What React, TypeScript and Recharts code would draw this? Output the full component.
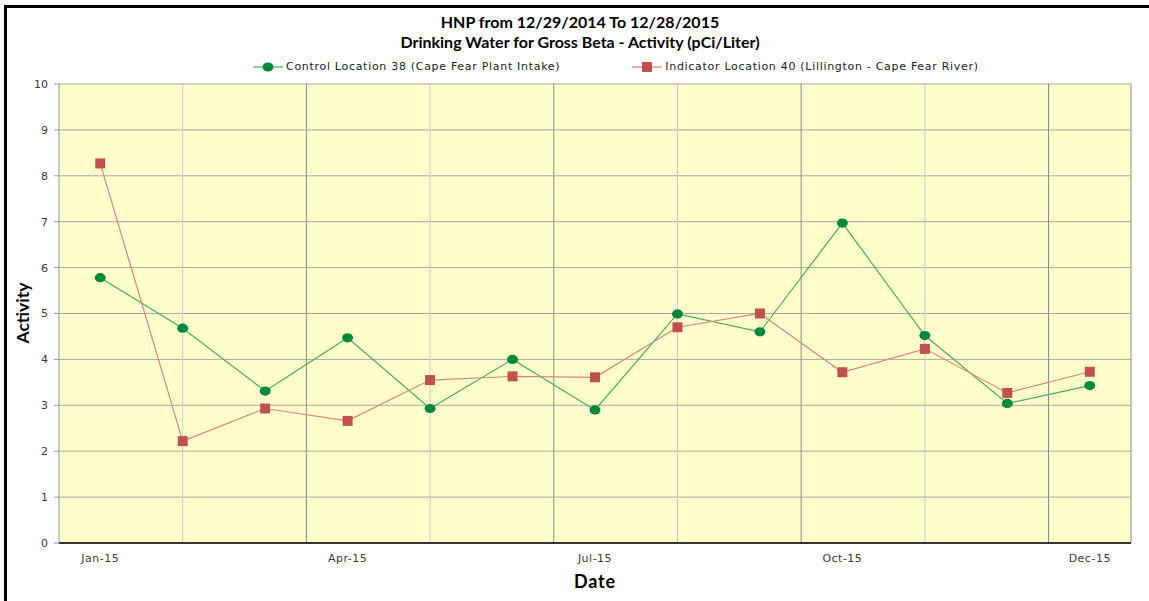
import { CartesianGrid, Line, LineChart, XAxis, YAxis } from "recharts";

// sample index (one sample roughly every 4 weeks, 12/29/2014 - 12/28/2015)
const sampleIndex = [0, 1, 2, 3, 4, 5, 6, 7, 8, 9, 10, 11, 12];
const controlLoc38 = [5.78, 4.68, 3.31, 4.47, 2.93, 4.0, 2.9, 4.99, 4.6, 6.97, 4.52, 3.04, 3.43];
const indicatorLoc40 = [8.27, 2.22, 2.93, 2.66, 3.55, 3.63, 3.61, 4.7, 5.0, 3.72, 4.23, 3.27, 3.73];

const xTickIndex = [0, 3, 6, 9, 12];
const xTickLabels = ["Jan-15", "Apr-15", "Jul-15", "Oct-15", "Dec-15"];
const yTicks = [0, 1, 2, 3, 4, 5, 6, 7, 8, 9, 10];
const minorGridAt = [1, 4, 7, 10];
const majorGridAt = [2.5, 5.5, 8.5, 11.5, 12.5];
const xDomain = [-0.5, 12.5];

const data = sampleIndex.map((idx, i) => ({
  idx,
  control: controlLoc38[i],
  indicator: indicatorLoc40[i],
}));

const GREEN_DOT = "#00893D";
const GREEN_LINE = "#4BAA5E";
const RED_DOT = "#C0504D";
const RED_LINE = "#D6847F";
const TEXT_FONT = "'DejaVu Sans', Verdana, sans-serif";
const TITLE_FONT = "Lato, 'Open Sans', sans-serif";

function gridGen(values: number[]) {
  return (args: any) => {
    const scale = args?.xAxis?.scale;
    const { offset } = args;
    return values.map((v) => {
      if (typeof scale === "function") return scale(v);
      if (scale && typeof scale.map === "function") {
        const r = scale.map(v);
        if (typeof r === "number" && !isNaN(r)) return r;
      }
      return offset.left + ((v - xDomain[0]) / (xDomain[1] - xDomain[0])) * offset.width;
    });
  };
}

const RoundDot = (props: any) => {
  const { cx, cy, index } = props;
  if (cx == null || cy == null) return null;
  return <ellipse key={`c-${index}`} cx={cx} cy={cy} rx={5.5} ry={4.6} fill={GREEN_DOT} />;
};

const SquareDot = (props: any) => {
  const { cx, cy, index } = props;
  if (cx == null || cy == null) return null;
  return <rect key={`s-${index}`} x={cx - 5} y={cy - 5} width={10} height={10} fill={RED_DOT} />;
};

function LegendItem({ kind, label }: { kind: "circle" | "square"; label: string }) {
  const color = kind === "circle" ? GREEN_LINE : RED_LINE;
  return (
    <div style={{ display: "flex", alignItems: "center" }}>
      <svg width={30} height={12} style={{ marginRight: 3 }}>
        <line x1={0} y1={6} x2={30} y2={6} stroke={color} strokeWidth={1.2} />
        {kind === "circle" ? (
          <ellipse cx={15} cy={6} rx={5.5} ry={4.6} fill={GREEN_DOT} />
        ) : (
          <rect x={10} y={1} width={10} height={10} fill={RED_DOT} />
        )}
      </svg>
      <span>{label}</span>
    </div>
  );
}

export default function App() {
  return (
    <div
      style={{
        position: "absolute",
        left: 0,
        top: 0,
        width: 1149,
        height: 601,
        background: "#fff",
        overflow: "hidden",
      }}
    >
      <div
        style={{
          position: "absolute",
          left: 4,
          top: 5,
          width: 1200,
          height: 700,
          border: "3px solid #000",
        }}
      />
      <div
        style={{
          position: "absolute",
          left: 0,
          top: 12,
          width: 1160,
          textAlign: "center",
          fontFamily: TITLE_FONT,
          fontWeight: 700,
          fontSize: 16,
          lineHeight: "20px",
          color: "#000",
        }}
      >
        <div>HNP from 12/29/2014 To 12/28/2015</div>
        <div>Drinking Water for Gross Beta - Activity (pCi/Liter)</div>
      </div>
      <div
        style={{
          position: "absolute",
          left: 253,
          top: 60,
          display: "flex",
          gap: 72,
          fontFamily: TEXT_FONT,
          fontSize: 11,
          letterSpacing: 0.7,
          color: "#222",
        }}
      >
        <LegendItem kind="circle" label="Control Location 38 (Cape Fear Plant Intake)" />
        <LegendItem kind="square" label="Indicator Location 40 (Lillington - Cape Fear River)" />
      </div>
      <div
        style={{
          position: "absolute",
          left: 22,
          top: 313,
          transform: "translate(-50%, -50%) rotate(-90deg)",
          fontFamily: TITLE_FONT,
          fontWeight: 700,
          fontSize: 17.5,
          color: "#000",
          whiteSpace: "nowrap",
        }}
      >
        Activity
      </div>
      <div
        style={{
          position: "absolute",
          left: 595,
          top: 581,
          transform: "translate(-50%, -50%)",
          fontFamily: TITLE_FONT,
          fontWeight: 700,
          fontSize: 18,
          letterSpacing: 0.8,
          color: "#000",
        }}
      >
        Date
      </div>
      <div style={{ position: "absolute", left: 0, top: 0 }}>
        <LineChart
          width={1149}
          height={601}
          data={data}
          margin={{ top: 84, right: 18, bottom: 28, left: 9 }}
        >
          <CartesianGrid fill="#FFFFCC" stroke="#A8A8A8" vertical={false} horizontal strokeWidth={1} />
          <CartesianGrid
            stroke="#CACACA"
            horizontal={false}
            verticalCoordinatesGenerator={gridGen(minorGridAt)}
          />
          <CartesianGrid
            stroke="#8A8A8A"
            horizontal={false}
            verticalCoordinatesGenerator={gridGen(majorGridAt)}
          />
          <XAxis
            dataKey="idx"
            type="number"
            domain={xDomain}
            ticks={xTickIndex}
            tickFormatter={(v: number) => xTickLabels[xTickIndex.indexOf(v)] ?? ""}
            tickLine={false}
            tickMargin={5}
            height={30}
            axisLine={{ stroke: "#000", strokeWidth: 1.5 }}
            tick={{ fontSize: 11, fill: "#3a3a3a", fontFamily: TEXT_FONT, letterSpacing: 0.5 }}
            interval={0}
          />
          <YAxis
            type="number"
            domain={[0, 10]}
            ticks={yTicks}
            width={50}
            interval={0}
            tickSize={5}
            tickMargin={6}
            axisLine={{ stroke: "#999" }}
            tickLine={{ stroke: "#999" }}
            tick={{ fontSize: 11, fill: "#3a3a3a", fontFamily: TEXT_FONT }}
          />
          <Line
            dataKey="control"
            stroke={GREEN_LINE}
            strokeWidth={1.2}
            dot={RoundDot}
            activeDot={false}
            isAnimationActive={false}
          />
          <Line
            dataKey="indicator"
            stroke={RED_LINE}
            strokeWidth={1.2}
            dot={SquareDot}
            activeDot={false}
            isAnimationActive={false}
          />
        </LineChart>
      </div>
    </div>
  );
}
